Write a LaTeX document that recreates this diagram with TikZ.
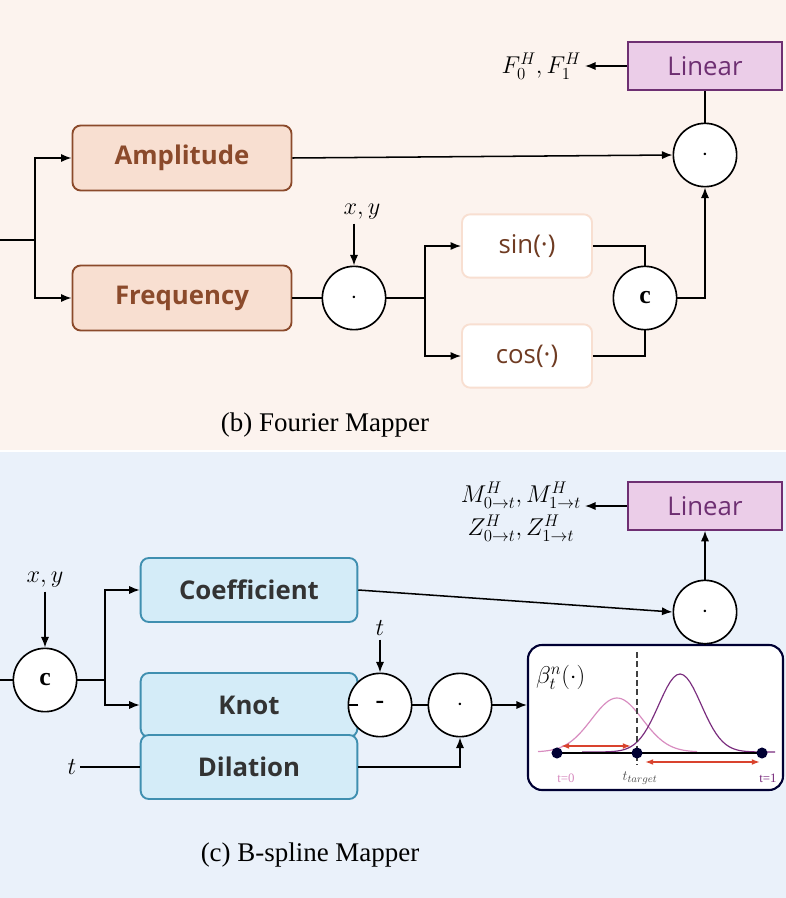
\documentclass[tikz,border=0pt]{standalone}
\usepackage{fontspec}
\setsansfont{Open Sans}
\setmainfont{Liberation Serif}
\usetikzlibrary{arrows.meta}
\definecolor{peach}{HTML}{FCF3EE}
\definecolor{lblue}{HTML}{EAF1FA}
\definecolor{ampfill}{HTML}{F8DFD1}
\definecolor{ampbd}{HTML}{8B4A2B}
\definecolor{linfill}{HTML}{EBCDE8}
\definecolor{linbd}{HTML}{6E2F72}
\definecolor{bfill}{HTML}{D4ECF8}
\definecolor{bbd}{HTML}{3F8FB0}
\definecolor{pinkc}{HTML}{D88CC0}
\definecolor{purc}{HTML}{7A2D7E}
\definecolor{redc}{HTML}{D9432E}
\begin{document}
\begin{tikzpicture}[x=0.03cm,y=-0.03cm,
  abox/.style={draw=ampbd,fill=ampfill,line width=1.6pt,rounded corners=7pt,minimum width=6.57cm,minimum height=1.95cm,font=\sffamily\bfseries\fontsize{22}{26}\selectfont,text=ampbd},
  sbox/.style={draw=ampfill,fill=white,line width=1.6pt,rounded corners=7pt,minimum width=3.9cm,minimum height=1.9cm,font=\sffamily\fontsize{22}{26}\selectfont,text=ampbd!80!black},
  bbox/.style={draw=bbd,fill=bfill,line width=1.6pt,rounded corners=7pt,minimum width=6.5cm,minimum height=1.92cm,font=\sffamily\bfseries\fontsize{22}{26}\selectfont,text=black!80},
  lin/.style={draw=linbd,fill=linfill,line width=1.3pt,minimum width=4.62cm,minimum height=1.44cm,font=\sffamily\fontsize{22}{26}\selectfont,text=linbd},
  op/.style={circle,draw,line width=1.4pt,fill=white,minimum size=1.9cm,inner sep=0pt,font=\bfseries\fontsize{22}{26}\selectfont},
  ar/.style={-{Latex[length=9pt,width=7pt]},line width=1.3pt},
  ln/.style={line width=1.3pt},
  mth/.style={font=\fontsize{22}{26}\selectfont},
  captxt/.style={font=\rmfamily\fontsize{23}{27}\selectfont}]
\useasboundingbox (0,0) rectangle (786,898);
\fill[peach] (0,0) rectangle (786,450);
\fill[lblue] (0,452) rectangle (786,898);
% ---- Fourier
\node[lin] (lin1) at (705,66) {Linear};
\node[mth,anchor=east] (F) at (585,66) {$F_0^H,F_1^H$};
\node[op] (d1) at (705,155) {$\cdot$};
\node[abox] (amp) at (182,158) {Amplitude};
\node[abox] (freq) at (182,298) {Frequency};
\node[op] (d2) at (354,298) {$\cdot$};
\node[mth] (xy1) at (362,212) {$x,y$};
\node[sbox] (sin) at (527,246) {sin(·)};
\node[sbox] (cos) at (527,356) {cos(·)};
\node[op] (c1) at (645,298) {c};
\coordinate (in1) at (0,240);
\coordinate (j1) at (35,240);
\coordinate (j2) at (425,298);
\draw[ln] (in1) -- (j1);
\draw[ar] (j1) |- (amp.west);
\draw[ar] (j1) |- (freq.west);
\draw[ar] (amp.east) -- (d1.west);
\draw[ln] (freq.east) -- (d2.west);
\draw[ar] (xy1.south -| d2.north) -- (d2.north);
\draw[ln] (d2.east) -- (j2);
\draw[ar] (j2) |- (sin.west);
\draw[ar] (j2) |- (cos.west);
\draw[ln] (sin.east) -| (c1.north);
\draw[ln] (cos.east) -| (c1.south);
\draw[ar] (c1.east) -| (d1.south);
\draw[ln] (d1.north) -- (lin1.south);
\draw[ar] (lin1.west) -- (F.east);
\node[captxt] (cb) at (325,425) {(b) Fourier Mapper};
% ---- B-spline
\node[lin] (lin2) at (705,506) {Linear};
\node[mth,align=center,anchor=east] (MZ) at (585,512) {$M_{0\to t}^H,M_{1\to t}^H$\\[2pt]$Z_{0\to t}^H,Z_{1\to t}^H$};
\node[op] (d3) at (705,612) {$\cdot$};
\node[mth] (xy2) at (45,580) {$x,y$};
\node[op] (c2) at (45,680) {c};
\node[bbox] (coef) at (249,590) {Coefficient};
\node[bbox] (knot) at (249,705) {Knot};
\node[bbox] (dil) at (249,767) {Dilation};
\node[op] (m) at (380,705) {-};
\node[mth] (t1) at (380,628) {$t$};
\node[op] (d4) at (460,705) {$\cdot$};
\node[mth] (t2) at (72,767) {$t$};
\node[draw=black!80!blue,line width=1.8pt,rounded corners=12pt,fill=white,minimum width=7.65cm,minimum height=4.35cm] (ins) at (655.5,717.5) {};
\coordinate (in2) at (0,680);
\coordinate (j3) at (105,680);
\draw[ln] (in2) -- (c2.west);
\draw[ar] (xy2.south) -- (c2.north);
\draw[ln] (c2.east) -- (j3);
\draw[ar] (j3) |- (coef.west);
\draw[ar] (j3) |- (knot.west);
\draw[ar] (coef.east) -- (d3.west);
\draw[ln] (knot.east) -- (m.west);
\draw[ar] (t1.south) -- (m.north);
\draw[ln] (m.east) -- (d4.west);
\draw[ar] (d4.east) -- (ins.west |- d4.east);
\draw[ln] (t2.east) -- (dil.west);
\draw[ar] (dil.east) -| (d4.south);
\draw[ln] (ins.north -| d3.south) -- (d3.south);
\draw[ar] (d3.north) -- (lin2.south);
\draw[ar] (lin2.west) -- (lin2.west -| MZ.east);
% inset
\node[mth,anchor=west] (beta) at (532,677) {$\beta_t^n(\cdot)$};
\draw[pinkc,line width=1pt] plot[domain=538:697,samples=60] ({\x},{752-54*exp(-((\x-617)/36)^2)});
\draw[purc,line width=1pt] plot[domain=582:775,samples=60] ({\x},{752-78*exp(-((\x-680)/30)^2)});
\draw[line width=1.6pt,dash pattern=on 5pt off 3pt,black!75] (637,652) -- (637,765);
\coordinate (p0) at (557,753);
\coordinate (pt) at (637,753);
\coordinate (p1) at (762,753);
\draw[line width=2pt] (p0) -- (p1);
\foreach \p in {p0,pt,p1} \draw[line width=1.6pt,fill=white,black!80!blue] (\p) circle (4.5);
\draw[redc,{Latex[length=7pt,width=5pt]}-{Latex[length=7pt,width=5pt]},line width=1.3pt] (561,746) -- (631,746);
\draw[redc,{Latex[length=7pt,width=5pt]}-{Latex[length=7pt,width=5pt]},line width=1.3pt] (645,762) -- (760,762);
\node[pinkc,font=\rmfamily\fontsize{11}{12}\selectfont] (l0) at (566,778) {t=0};
\node[black!70,font=\fontsize{13}{14}\selectfont] (lt) at (640,778) {$t_{target}$};
\node[purc,font=\rmfamily\fontsize{11}{12}\selectfont] (l1) at (768,778) {t=1};
\node[captxt] (cc) at (310,855) {(c) B-spline Mapper};
\end{tikzpicture}
\end{document}
